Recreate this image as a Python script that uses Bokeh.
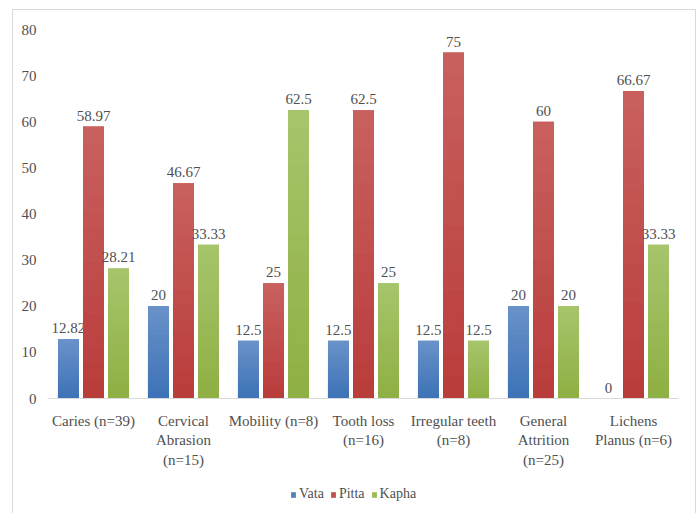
from bokeh.plotting import figure
from bokeh.layouts import column
from bokeh.models import ColumnDataSource, FactorRange, Range1d, Legend, LegendItem, FixedTicker
from bokeh.transform import dodge
from bokeh.core.properties import value
from bokeh.embed import file_html
from bokeh.resources import INLINE

categories = ["Caries (n=39)", "Cervical\nAbrasion\n(n=15)", "Mobility (n=8)",
              "Tooth loss\n(n=16)", "Irregular teeth\n(n=8)", "General\nAttrition\n(n=25)",
              "Lichens\nPlanus (n=6)"]
vata = [12.82, 20, 12.5, 12.5, 12.5, 20, 0]
pitta = [58.97, 46.67, 25, 62.5, 75, 60, 66.67]
kapha = [28.21, 33.33, 62.5, 25, 12.5, 20, 33.33]
series_names = ["Vata", "Pitta", "Kapha"]
y_ticks = [0, 10, 20, 30, 40, 50, 60, 70, 80]

series_values = [vata, pitta, kapha]
mid_colors = ["#4f81bd", "#c0504d", "#9bbb59"]
top_colors = [(0x68, 0x91, 0xc8), (0xc8, 0x60, 0x5e), (0xa6, 0xc4, 0x6a)]
bot_colors = [(0x3e, 0x73, 0xb7), (0xb9, 0x3d, 0x3b), (0x8f, 0xb0, 0x45)]
offsets = [-0.278, 0.0, 0.278]
BAR_W = 0.233
NSLICE = 16
FONT = "Liberation Serif"
TXT = "#505050"


def hexcol(c):
    return "#%02x%02x%02x" % tuple(int(round(x)) for x in c)


p = figure(width=682, height=468, x_range=FactorRange(*categories), y_range=Range1d(0, 80),
           output_backend="svg", toolbar_location=None,
           min_border_left=35, min_border_right=17, min_border_top=19, min_border_bottom=80)
p.outline_line_color = None
p.xgrid.grid_line_color = None
p.ygrid.grid_line_color = None

for name, vals, mid, tc, bc, off in zip(series_names, series_values, mid_colors,
                                        top_colors, bot_colors, offsets):
    xs = dodge("cat", off, range=p.x_range)
    base_src = ColumnDataSource(dict(cat=categories, top=vals,
                                     lab=[f"{v:g}" for v in vals]))
    p.vbar(x=xs, top="top", width=BAR_W, source=base_src,
           fill_color=mid, line_color=None)
    # vertical gradient: overlapping bars, lightest (tallest) first
    for k in range(NSLICE, 0, -1):
        t = (k - 1) / (NSLICE - 1)  # 1 at top, 0 at bottom
        col = tuple(bc[i] + (tc[i] - bc[i]) * t for i in range(3))
        s = ColumnDataSource(dict(cat=categories, top=[v * k / NSLICE for v in vals]))
        p.vbar(x=xs, top="top", width=BAR_W, source=s,
               fill_color=hexcol(col), line_color=None)
    p.text(x=xs, y="top", text="lab", source=base_src,
           text_font=value(FONT), text_font_size="15px", text_color=TXT,
           text_align="center", text_baseline="bottom", y_offset=-6)

p.yaxis.ticker = FixedTicker(ticks=y_ticks)
p.yaxis.axis_line_color = None
p.yaxis.major_tick_line_color = None
p.yaxis.minor_tick_line_color = None
p.yaxis.major_label_standoff = 6
p.yaxis.major_label_text_font = FONT
p.yaxis.major_label_text_font_size = "15px"
p.yaxis.major_label_text_color = TXT

p.xaxis.axis_line_color = "#d9d9d9"
p.xaxis.axis_line_width = 1
p.xaxis.major_tick_line_color = None
p.xaxis.minor_tick_line_color = None
p.xaxis.major_label_standoff = 8
p.xaxis.major_label_text_font = FONT
p.xaxis.major_label_text_font_size = "15px"
p.xaxis.major_label_text_color = TXT
p.xaxis.major_label_text_line_height = 1.22

# legend strip below the chart (its frame is aligned with the chart's frame)
lg = figure(width=682, height=35, x_range=Range1d(0, 1), y_range=Range1d(0, 1),
            output_backend="svg", toolbar_location=None,
            x_axis_location=None, y_axis_location=None,
            min_border_left=0, min_border_right=0, min_border_top=0, min_border_bottom=0)
lg.grid.grid_line_color = None
lg.outline_line_color = None
items = []
for name, mid in zip(series_names, mid_colors):
    # swatch-only renderer: a zero-size bar that draws nothing itself
    r = lg.vbar(x=[0.5], top=[0], width=0, fill_color=mid, line_color=None)
    items.append(LegendItem(label=name, renderers=[r]))
legend = Legend(items=items, orientation="horizontal", location=(242, 11),
                label_text_font=FONT, label_text_font_size="14px", label_text_color=TXT,
                glyph_width=6, glyph_height=7, label_standoff=3, spacing=6,
                padding=0, margin=0, border_line_color=None, background_fill_alpha=0,
                label_height=14, label_width=10)
lg.add_layout(legend, "center")

layout = column(p, lg, spacing=0,
                styles={"margin-left": "12px", "margin-top": "9px",
                        "border-top": "1px solid #d9d9d9", "border-left": "1px solid #d9d9d9",
                        "border-right": "1px solid #d9d9d9"})

open("out.html", "w").write(file_html(layout, INLINE))
